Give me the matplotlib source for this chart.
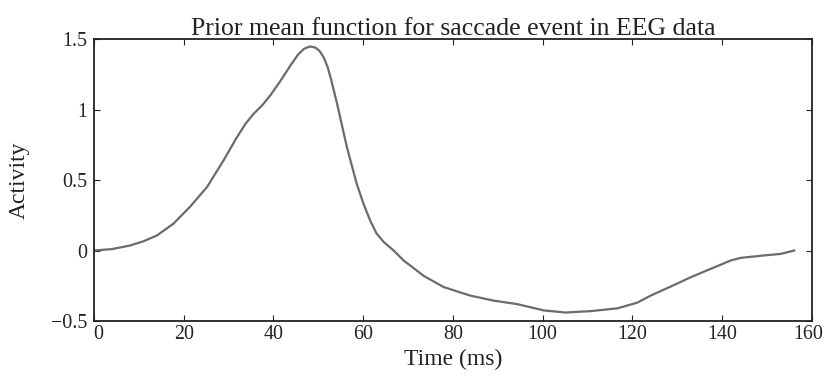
import matplotlib
matplotlib.use("Agg")
import matplotlib.pyplot as plt
import matplotlib.transforms as mtransforms

# values
time_ms = [0, 4, 8, 11, 14, 17.7, 21.4, 25.2, 28.9, 31.8, 33.8, 35.6, 37.5, 39.3, 41.5,
           43.75, 45.5, 46.8, 48.1, 49.3, 50.3, 51.2, 52.1, 52.8, 53.5, 54.2, 55.3,
           56.4, 57.5, 58.6, 60.1, 61.6, 63.0, 64.6, 66.8, 69.0, 73.5, 78.0, 83.9,
           89, 94.3, 100.3, 105.1, 110.7, 116.7, 121.1, 124.1, 128.6, 133.0, 137.5,
           142, 144.2, 149.4, 153.1, 156.1]
activity = [0, 0.01, 0.035, 0.065, 0.106, 0.19, 0.31, 0.45, 0.64, 0.80, 0.90, 0.97,
            1.03, 1.10, 1.20, 1.31, 1.39, 1.43, 1.447, 1.44, 1.415, 1.37, 1.30, 1.22,
            1.13, 1.04, 0.885, 0.73, 0.60, 0.47, 0.33, 0.21, 0.12, 0.06, 0.0, -0.07,
            -0.18, -0.26, -0.32, -0.355, -0.38, -0.425, -0.44, -0.43, -0.41, -0.37,
            -0.32, -0.255, -0.19, -0.13, -0.07, -0.052, -0.035, -0.024, 0.0]

xticks = [0, 20, 40, 60, 80, 100, 120, 140, 160]
yticks = [-0.5, 0, 0.5, 1, 1.5]
yticklabels = ["\u22120.5", "0", "0.5", "1", "1.5"]

plt.rcParams['font.family'] = ['Liberation Serif', 'DejaVu Serif']

fig = plt.figure(figsize=(8.23, 3.78), dpi=100)
ax = fig.add_axes([0.1142, 0.1508, 0.8721, 0.746])
ax.plot(time_ms, activity, color='#6b6b6b', linewidth=1.6)

ax.set_xlim(0, 160)
ax.set_ylim(-0.5, 1.5)
ax.set_xticks(xticks)
ax.set_yticks(yticks)
ax.set_yticklabels(yticklabels)
ax.tick_params(direction='in', top=True, right=True, length=4.3, width=0.8,
               labelsize=14.4, colors='#222222')
ax.tick_params(axis='x', pad=3)
ax.tick_params(axis='y', pad=5)
for s in ax.spines.values():
    s.set_linewidth(1.3)
    s.set_color('#222222')

# matlab keeps the end labels inside the box
labels = ax.get_xticklabels()
labels[0].set_transform(labels[0].get_transform() +
                        mtransforms.ScaledTranslation(4 / 100, 0, fig.dpi_scale_trans))
labels[-1].set_transform(labels[-1].get_transform() +
                         mtransforms.ScaledTranslation(-4 / 100, 0, fig.dpi_scale_trans))

ax.set_title('Prior mean function for saccade event in EEG data', fontsize=18.5, pad=3,
             color='#222222')
ax.set_xlabel('Time (ms)', fontsize=17, color='#222222')
ax.set_ylabel('Activity', fontsize=17, color='#222222')
ax.xaxis.set_label_coords(0.5, -0.098)
ax.yaxis.set_label_coords(-0.09, 0.5)

fig.savefig('out.png', dpi=100)
